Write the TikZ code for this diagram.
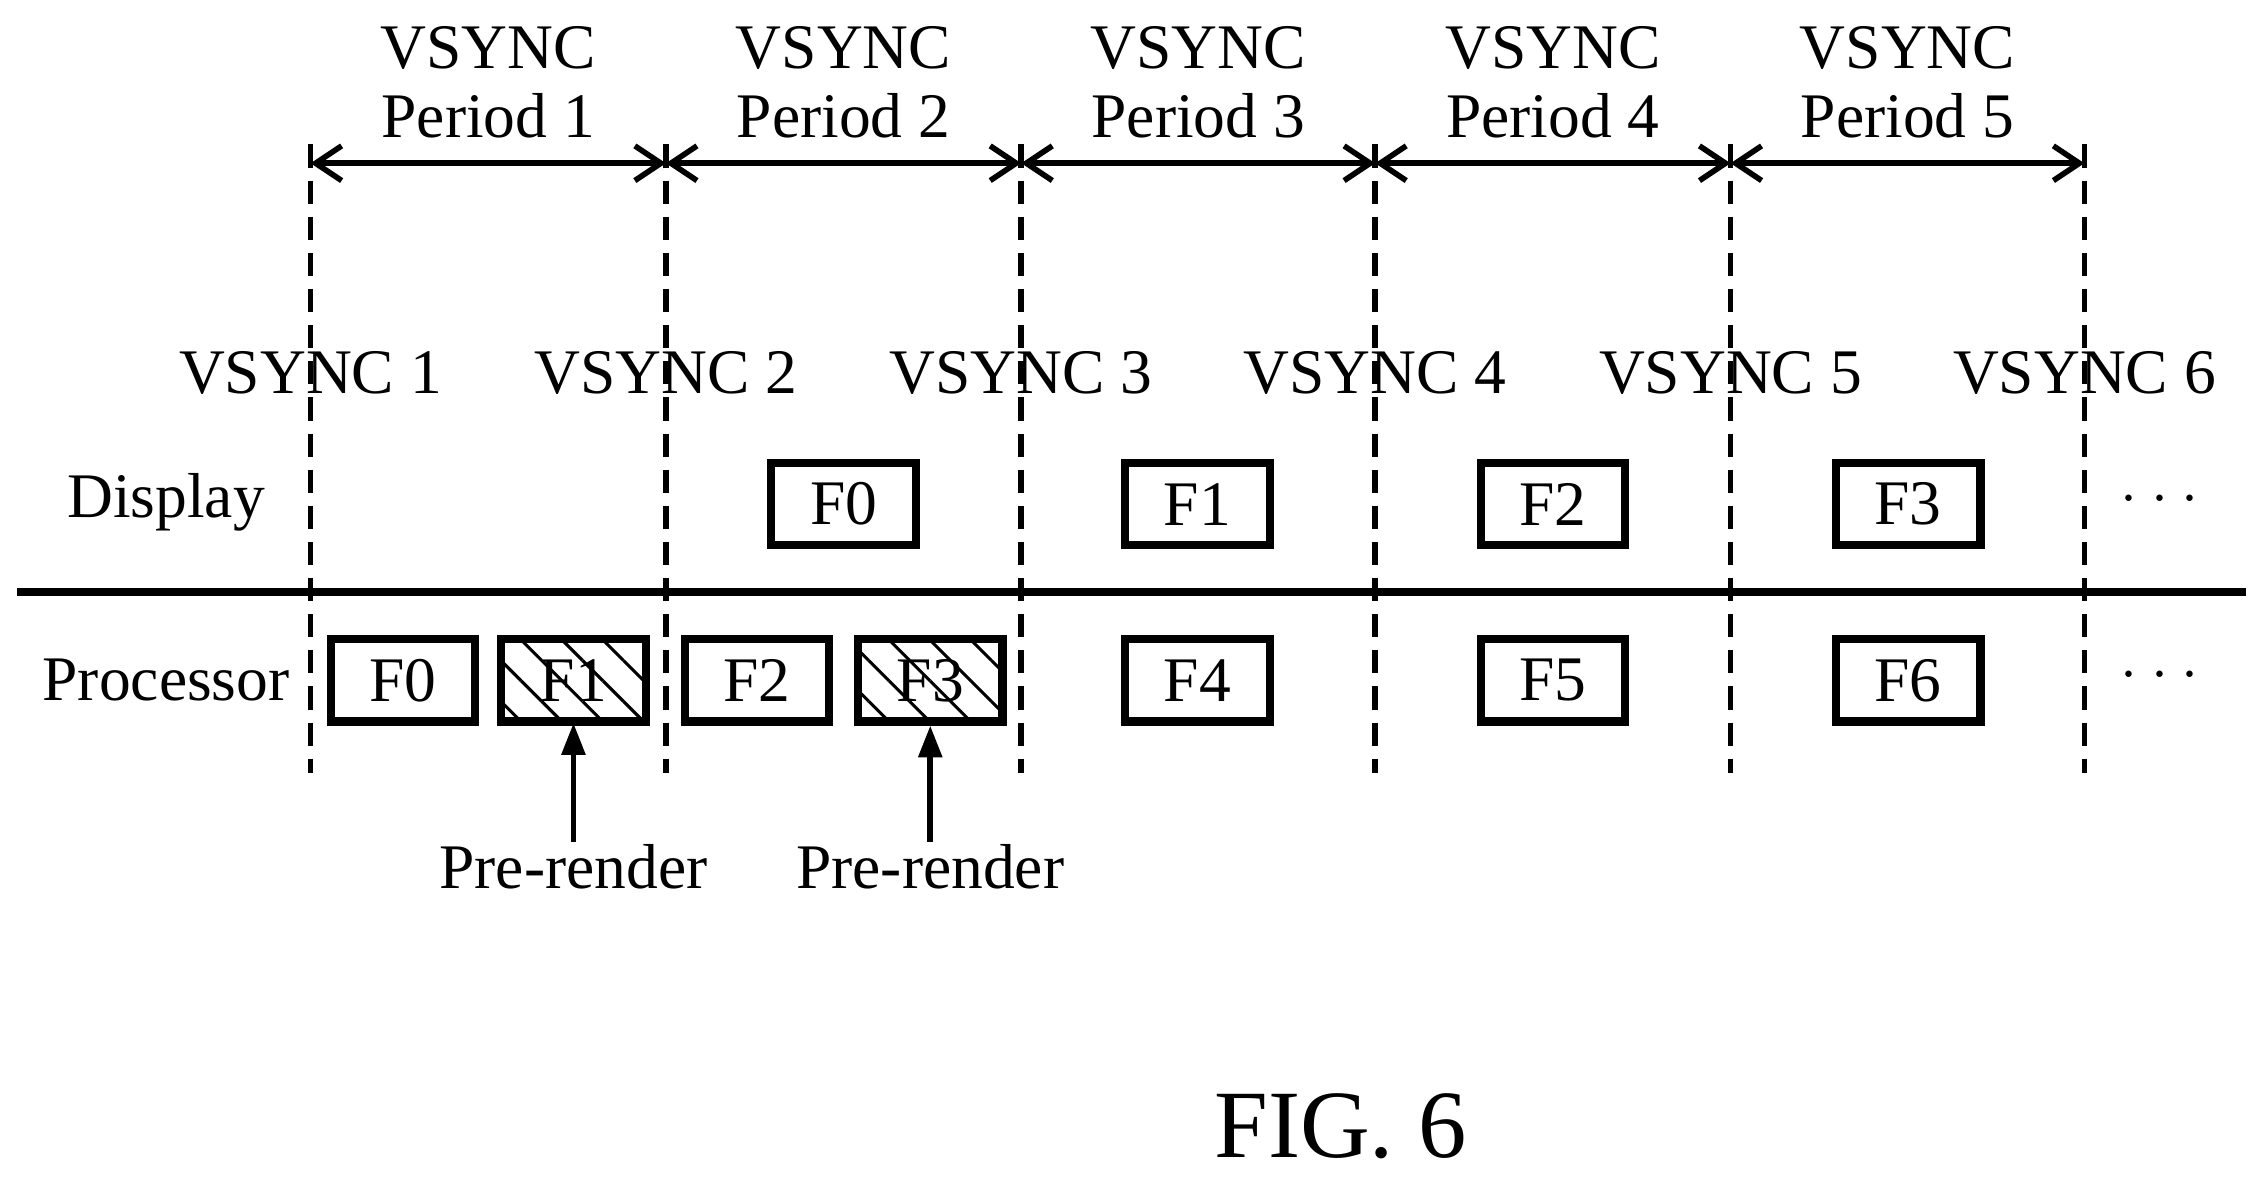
\documentclass[tikz,border=0pt]{standalone}
\usepackage{fontspec}
\setmainfont{Liberation Serif}
\usetikzlibrary{patterns.meta,arrows.meta}
\begin{document}
\begin{tikzpicture}[x=0.01cm,y=-0.01cm,
  txt/.style={font=\fontsize{12.5}{14}\selectfont, inner sep=0pt},
  box/.style={draw, line width=1.6pt, minimum width=1cm, minimum height=0.57cm, inner sep=0pt, font=\fontsize{12.5}{14}\selectfont},
  hbox/.style={box, pattern={Lines[angle=-45,distance=0.2cm,line width=0.6pt]}},
  vdash/.style={line width=1.1pt, dash pattern=on 0.16cm off 0.09cm},
  per/.style={line width=1.1pt, {Straight Barb[length=0.18cm,width=0.24cm]}-{Straight Barb[length=0.18cm,width=0.24cm]}},
  up/.style={line width=1.1pt, -{Triangle[length=0.22cm,width=0.16cm]}}]
\useasboundingbox (0,0) rectangle (1568,818);
\foreach \i/\x in {1/215,2/461,3/707,4/952,5/1198,6/1443}{
  \coordinate (t\i) at (\x,100);
  \coordinate (b\i) at (\x,535);
  \coordinate (a\i) at (\x,113);
  \draw[vdash] (t\i) -- (b\i);
  \node[txt] (v\i) at (\x,258) {VSYNC \i};
}
\foreach \i/\j in {1/2,2/3,3/4,4/5,5/6}{
  \draw[per] (a\i) -- (a\j);
  \path (a\i) -- (a\j) node[midway, txt, yshift=0.33cm] (pl\i) {Period \i}
                       node[midway, txt, yshift=0.8cm] (pv\i) {VSYNC};
}
\node[txt] (disp) at (115,348) {Display};
\node[txt] (proc) at (115,471) {Processor};
\coordinate (sl) at (12,410); \coordinate (sr) at (1555,410);
\draw[line width=1.6pt] (sl) -- (sr);
\node[box] (d0) at (584,349) {F0};
\node[box] (d1) at (829,349) {F1};
\node[box] (d2) at (1075,349) {F2};
\node[box] (d3) at (1321,349) {F3};
\node[box] (p0) at (279,471) {F0};
\node[hbox] (p1) at (397,471) {F1};
\node[box] (p2) at (524,471) {F2};
\node[hbox] (p3) at (644,471) {F3};
\node[box] (p4) at (829,471) {F4};
\node[box] (p5) at (1075,471) {F5};
\node[box] (p6) at (1321,471) {F6};
\node[txt] (dd) at (1495,346) {$\cdot\cdot\cdot$};
\node[txt] (pd) at (1495,468) {$\cdot\cdot\cdot$};
\node[txt] (r1) at (397,600) {Pre-render};
\node[txt] (r3) at (644,600) {Pre-render};
\coordinate (r1t) at (397,583);
\coordinate (r3t) at (644,583);
\draw[up] (r1t) -- (p1.south);
\draw[up] (r3t) -- (p3.south);
\node[inner sep=0pt, font=\fontsize{19}{22}\selectfont] (fig) at (928,780) {FIG. 6};
\end{tikzpicture}
\end{document}
